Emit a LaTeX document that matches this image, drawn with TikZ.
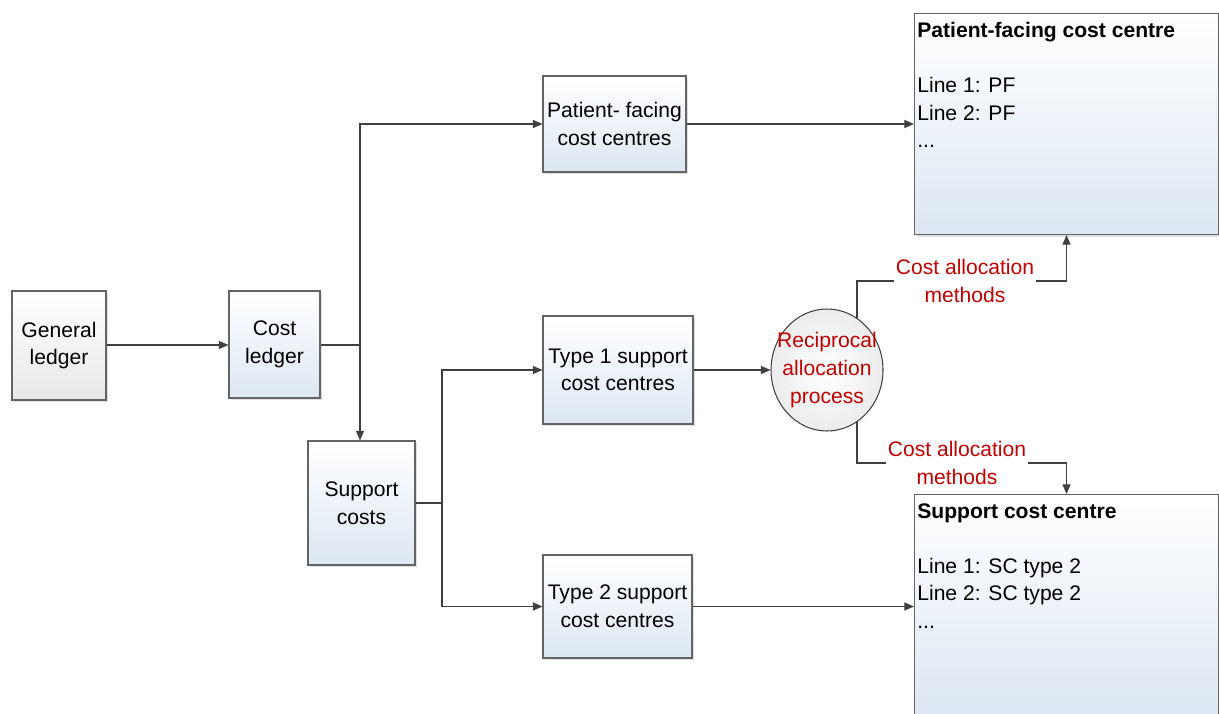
\documentclass[tikz,border=0pt]{standalone}
\usepackage{fontspec}
\setmainfont{Liberation Sans}
\usetikzlibrary{arrows.meta,shapes.geometric,shadows}

\definecolor{boxline}{RGB}{100,100,100}
\definecolor{wire}{RGB}{64,64,64}
\definecolor{boxblue}{RGB}{220,231,243}
\definecolor{boxgrey}{RGB}{232,232,232}
\definecolor{methodred}{RGB}{192,0,0}
\definecolor{ballgrey}{RGB}{236,236,236}

\tikzset{
  every node/.style={font=\fontsize{12}{15.7}\selectfont},
  box/.style={draw=boxline, line width=0.6pt, top color=white, bottom color=boxblue,
    align=center, inner sep=0pt,
    drop shadow={shadow xshift=1.3pt, shadow yshift=-1.3pt, opacity=0.25}},
  greybox/.style={box, bottom color=boxgrey},
  bigbox/.style={box, anchor=north west},
  wireline/.style={draw=wire, line width=0.7pt},
  flow/.style={wireline, -{Triangle[length=5.5pt,width=4.6pt]}},
  process/.style={ellipse, draw=wire, line width=0.6pt, inner sep=0pt,
    shading=radial, inner color=white, outer color=ballgrey},
  proclabel/.style={text=methodred, align=center, inner sep=0pt},
  method/.style={fill=white, text=methodred, align=center, inner sep=1pt},
  listtext/.style={anchor=north west, align=left, inner sep=0pt},
}

\begin{document}
\begin{tikzpicture}[x=0.02cm, y=-0.02cm]
  \useasboundingbox (0,0) rectangle (1219,713);

  % ledgers and cost groups
  \node[greybox, minimum width=94*0.02cm, minimum height=109*0.02cm] (gl) at (59,345.5) {General\\ledger};
  \node[box, minimum width=91*0.02cm, minimum height=107*0.02cm] (cl) at (274.5,344.5) {Cost\\ledger};
  \node[box, minimum width=107*0.02cm, minimum height=124*0.02cm] (sc) at (361.5,503) {Support\\costs};
  \node[box, minimum width=143*0.02cm, minimum height=96*0.02cm] (pfcc) at (614.5,124) {Patient- facing\\cost centres};
  \node[box, minimum width=150*0.02cm, minimum height=108*0.02cm] (t1) at (618,370) {Type 1 support\\cost centres};
  \node[box, minimum width=149*0.02cm, minimum height=103*0.02cm] (t2) at (617.5,606.5) {Type 2 support\\cost centres};

  % reciprocal allocation
  \node[process, minimum width=112*0.02cm, minimum height=122*0.02cm,
        label={[proclabel]center:Reciprocal\\allocation\\process}] (rap) at (827,370) {};

  % destination cost centres
  \node[bigbox, minimum width=304*0.02cm, minimum height=221*0.02cm] (pfbig) at (914,13) {};
  \node[listtext] (pftext) at (917,22) {\textbf{Patient-facing cost centre}\\[15.7pt]Line 1: PF\\Line 2: PF\\...};
  \node[bigbox, minimum width=304*0.02cm, minimum height=221*0.02cm] (scbig) at (914,494) {};
  \node[listtext] (sctext) at (917,503) {\textbf{Support cost centre}\\[15.7pt]Line 1: SC type 2\\Line 2: SC type 2\\...};

  % junctions
  \coordinate (j1) at (360,345);
  \coordinate (j2) at (442,503);

  % connectors
  \draw[flow] (gl.east |- j1) -- (cl.west |- j1);
  \draw[wireline] (cl.east |- j1) -- (j1);
  \draw[flow] (j1) |- (pfcc.west);
  \draw[flow] (j1) -- (j1 |- sc.north);
  \draw[wireline] (sc.east |- j2) -- (j2);
  \draw[flow] (j2) |- (t1.west);
  \draw[flow] (j2) |- (t2.west);
  \draw[flow] (pfcc.east) -- (pfcc.east -| pfbig.west);
  \draw[flow] (t1.east) -- (rap.west);
  \draw[flow] (t2.east) -- (t2.east -| scbig.west);

  \coordinate (m1) at (965,281);
  \coordinate (m2) at (957,463);
  \draw[flow] (rap.60) -- (rap.60 |- m1) -- (pfbig.south |- m1) -- (pfbig.south);
  \draw[flow] (rap.-60) -- (rap.-60 |- m2) -- (scbig.north |- m2) -- (scbig.north);
  \node[method] (lab1) at (m1) {Cost allocation\\methods};
  \node[method] (lab2) at (m2) {Cost allocation\\methods};
\end{tikzpicture}
\end{document}
